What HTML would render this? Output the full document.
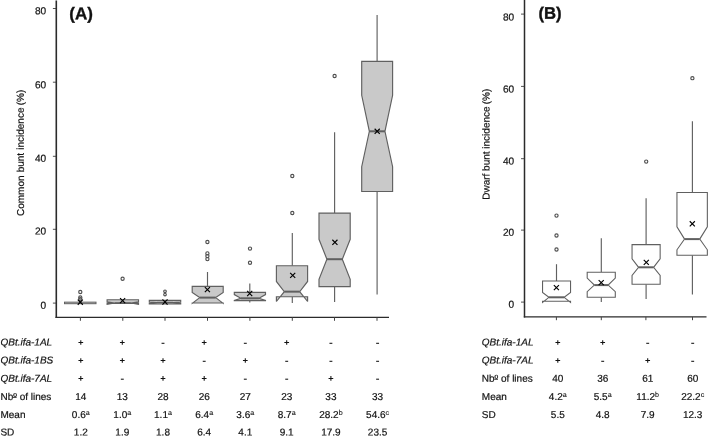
<!DOCTYPE html>
<html><head><meta charset="utf-8"><title>Bunt incidence</title>
<style>html,body{margin:0;padding:0;background:#fff;}svg{display:block;filter:grayscale(1);}text{font-family:"Liberation Sans",sans-serif;fill:#111;stroke:#111;stroke-width:0.2px;text-rendering:geometricPrecision;}</style>
</head><body>
<svg width="709" height="439" viewBox="0 0 709 439">
<rect width="709" height="439" fill="#fff"/>
<rect x="64.5" y="302.15" width="31.5" height="1.55" fill="#c9c9c9" stroke="#606060" stroke-width="1"/>
<circle cx="80.30" cy="292.00" r="1.6" fill="none" stroke="#505050" stroke-width="1.15"/>
<circle cx="80.30" cy="297.50" r="1.6" fill="none" stroke="#505050" stroke-width="1.15"/>
<circle cx="80.30" cy="299.30" r="1.6" fill="none" stroke="#505050" stroke-width="1.15"/>
<path d="M77.75,299.65 L82.85,304.75 M77.75,304.75 L82.85,299.65" stroke="#000" stroke-width="1.15" fill="none"/>
<polygon points="107.10,303.30 107.10,304.40 114.80,303.00 107.10,301.90 107.10,299.70 138.50,299.70 138.50,301.90 130.80,303.00 138.50,304.40 138.50,303.30" fill="#c9c9c9" stroke="#606060" stroke-width="1.15" stroke-linejoin="miter" stroke-miterlimit="3"/>
<line x1="114.80" y1="303.00" x2="130.80" y2="303.00" stroke="#606060" stroke-width="1.6"/>
<circle cx="122.60" cy="278.70" r="1.6" fill="none" stroke="#505050" stroke-width="1.15"/>
<path d="M120.05,298.05 L125.15,303.15 M120.05,303.15 L125.15,298.05" stroke="#000" stroke-width="1.15" fill="none"/>
<polygon points="149.30,304.00 149.30,303.20 157.00,302.60 149.30,302.00 149.30,300.30 180.70,300.30 180.70,302.00 173.00,302.60 180.70,303.20 180.70,304.00" fill="#c9c9c9" stroke="#606060" stroke-width="1.15" stroke-linejoin="miter" stroke-miterlimit="3"/>
<line x1="157.00" y1="302.60" x2="173.00" y2="302.60" stroke="#606060" stroke-width="1.6"/>
<circle cx="165.00" cy="291.30" r="1.3" fill="none" stroke="#505050" stroke-width="1.15"/>
<circle cx="165.00" cy="294.50" r="1.3" fill="none" stroke="#505050" stroke-width="1.15"/>
<path d="M162.45,299.45 L167.55,304.55 M162.45,304.55 L167.55,299.45" stroke="#000" stroke-width="1.15" fill="none"/>
<line x1="207.50" y1="272.00" x2="207.50" y2="286.40" stroke="#606060" stroke-width="1.15"/>
<polygon points="192.20,303.00 192.20,303.40 199.70,297.60 192.20,292.45 192.20,286.40 223.20,286.40 223.20,292.45 215.70,297.60 223.20,303.40 223.20,303.00" fill="#c9c9c9" stroke="#606060" stroke-width="1.15" stroke-linejoin="miter" stroke-miterlimit="3"/>
<line x1="199.70" y1="297.60" x2="215.70" y2="297.60" stroke="#606060" stroke-width="2.0"/>
<circle cx="207.40" cy="242.00" r="1.6" fill="none" stroke="#505050" stroke-width="1.15"/>
<circle cx="207.40" cy="253.40" r="1.6" fill="none" stroke="#505050" stroke-width="1.15"/>
<circle cx="207.40" cy="256.10" r="1.6" fill="none" stroke="#505050" stroke-width="1.15"/>
<circle cx="207.40" cy="259.10" r="1.6" fill="none" stroke="#505050" stroke-width="1.15"/>
<path d="M204.85,287.05 L209.95,292.15 M204.85,292.15 L209.95,287.05" stroke="#000" stroke-width="1.15" fill="none"/>
<line x1="249.80" y1="283.40" x2="249.80" y2="292.40" stroke="#606060" stroke-width="1.15"/>
<line x1="249.80" y1="300.60" x2="249.80" y2="302.60" stroke="#606060" stroke-width="1.15"/>
<polygon points="234.30,300.60 234.30,300.40 240.90,298.30 234.30,294.60 234.30,292.40 265.50,292.40 265.50,294.60 258.90,298.30 265.50,300.40 265.50,300.60" fill="#c9c9c9" stroke="#606060" stroke-width="1.15" stroke-linejoin="miter" stroke-miterlimit="3"/>
<line x1="240.90" y1="298.30" x2="258.90" y2="298.30" stroke="#606060" stroke-width="2.0"/>
<circle cx="250.00" cy="248.60" r="1.6" fill="none" stroke="#505050" stroke-width="1.15"/>
<circle cx="250.00" cy="262.80" r="1.6" fill="none" stroke="#505050" stroke-width="1.15"/>
<path d="M247.15,290.95 L252.25,296.05 M247.15,296.05 L252.25,290.95" stroke="#000" stroke-width="1.15" fill="none"/>
<line x1="292.30" y1="233.10" x2="292.30" y2="265.70" stroke="#606060" stroke-width="1.15"/>
<line x1="292.30" y1="296.70" x2="292.30" y2="303.00" stroke="#606060" stroke-width="1.15"/>
<polygon points="276.40,296.70 276.40,301.50 284.30,291.65 276.40,281.45 276.40,265.70 307.60,265.70 307.60,281.45 299.70,291.65 307.60,301.50 307.60,296.70" fill="#c9c9c9" stroke="#606060" stroke-width="1.15" stroke-linejoin="miter" stroke-miterlimit="3"/>
<line x1="284.30" y1="291.65" x2="299.70" y2="291.65" stroke="#606060" stroke-width="2.0"/>
<circle cx="292.30" cy="176.00" r="1.6" fill="none" stroke="#505050" stroke-width="1.15"/>
<circle cx="292.30" cy="213.00" r="1.6" fill="none" stroke="#505050" stroke-width="1.15"/>
<path d="M290.15,272.85 L295.25,277.95 M290.15,277.95 L295.25,272.85" stroke="#000" stroke-width="1.15" fill="none"/>
<line x1="334.60" y1="132.30" x2="334.60" y2="213.10" stroke="#606060" stroke-width="1.15"/>
<line x1="334.60" y1="286.60" x2="334.60" y2="302.10" stroke="#606060" stroke-width="1.15"/>
<polygon points="319.00,286.60 319.00,279.30 326.90,259.20 319.00,239.30 319.00,213.10 350.20,213.10 350.20,239.30 342.30,259.20 350.20,279.30 350.20,286.60" fill="#c9c9c9" stroke="#606060" stroke-width="1.15" stroke-linejoin="miter" stroke-miterlimit="3"/>
<line x1="326.90" y1="259.20" x2="342.30" y2="259.20" stroke="#606060" stroke-width="2.0"/>
<circle cx="334.60" cy="76.00" r="1.6" fill="none" stroke="#505050" stroke-width="1.15"/>
<path d="M332.35,239.75 L337.45,244.85 M332.35,244.85 L337.45,239.75" stroke="#000" stroke-width="1.15" fill="none"/>
<line x1="377.10" y1="15.00" x2="377.10" y2="61.40" stroke="#606060" stroke-width="1.15"/>
<line x1="377.10" y1="191.45" x2="377.10" y2="294.60" stroke="#606060" stroke-width="1.15"/>
<polygon points="361.70,191.45 361.70,166.75 369.35,131.30 361.70,95.25 361.70,61.40 392.60,61.40 392.60,95.25 384.95,131.30 392.60,166.75 392.60,191.45" fill="#c9c9c9" stroke="#606060" stroke-width="1.15" stroke-linejoin="miter" stroke-miterlimit="3"/>
<line x1="369.35" y1="131.30" x2="384.95" y2="131.30" stroke="#606060" stroke-width="2.0"/>
<path d="M374.65,128.75 L379.75,133.85 M374.65,133.85 L379.75,128.75" stroke="#000" stroke-width="1.15" fill="none"/>
<line x1="56.3" y1="0.5" x2="56.3" y2="318.09999999999997" stroke="#2b2b2b" stroke-width="1.6"/>
<line x1="55.5" y1="317.4" x2="389" y2="317.4" stroke="#2b2b2b" stroke-width="1.4"/>
<line x1="52.9" y1="8.50" x2="56.3" y2="8.50" stroke="#333" stroke-width="0.85"/>
<text transform="rotate(0.03 46.20 14.35)" x="46.20" y="14.35" text-anchor="end" style="font-size:10.1px;">80</text>
<line x1="52.9" y1="82.20" x2="56.3" y2="82.20" stroke="#333" stroke-width="0.85"/>
<text transform="rotate(0.03 46.20 88.35)" x="46.20" y="88.35" text-anchor="end" style="font-size:10.1px;">60</text>
<line x1="52.9" y1="156.30" x2="56.3" y2="156.30" stroke="#333" stroke-width="0.85"/>
<text transform="rotate(0.03 46.20 161.75)" x="46.20" y="161.75" text-anchor="end" style="font-size:10.1px;">40</text>
<line x1="52.9" y1="229.30" x2="56.3" y2="229.30" stroke="#333" stroke-width="0.85"/>
<text transform="rotate(0.03 46.20 234.60)" x="46.20" y="234.60" text-anchor="end" style="font-size:10.1px;">20</text>
<line x1="52.9" y1="303.10" x2="56.3" y2="303.10" stroke="#333" stroke-width="0.85"/>
<text transform="rotate(0.03 46.20 308.65)" x="46.20" y="308.65" text-anchor="end" style="font-size:10.1px;">0</text>
<line x1="80.4" y1="317.4" x2="80.4" y2="320.8" stroke="#444" stroke-width="1"/>
<line x1="122.8" y1="317.4" x2="122.8" y2="320.8" stroke="#444" stroke-width="1"/>
<line x1="165.0" y1="317.4" x2="165.0" y2="320.8" stroke="#444" stroke-width="1"/>
<line x1="207.5" y1="317.4" x2="207.5" y2="320.8" stroke="#444" stroke-width="1"/>
<line x1="249.9" y1="317.4" x2="249.9" y2="320.8" stroke="#444" stroke-width="1"/>
<line x1="292.3" y1="317.4" x2="292.3" y2="320.8" stroke="#444" stroke-width="1"/>
<line x1="334.5" y1="317.4" x2="334.5" y2="320.8" stroke="#444" stroke-width="1"/>
<line x1="377.0" y1="317.4" x2="377.0" y2="320.8" stroke="#444" stroke-width="1"/>
<text transform="rotate(0.03 69.35 19.25)" x="69.35" y="19.25" text-anchor="start" style="font-size:17px;font-weight:bold;stroke-width:0.35px;">(A)</text>
<text transform="translate(23.9,216.0) rotate(-90.03)" style="font-size:10px;word-spacing:0.3px">Common bunt incidence<tspan dx="-0.8"> (%)</tspan></text>
<text transform="rotate(0.03 0.45 345.40)" x="0.45" y="345.40" text-anchor="start" style="font-size:10px;font-style:italic;">QBt.ifa-1AL</text>
<text transform="rotate(0.03 0.45 363.40)" x="0.45" y="363.40" text-anchor="start" style="font-size:10px;font-style:italic;">QBt.ifa-1BS</text>
<text transform="rotate(0.03 0.45 381.80)" x="0.45" y="381.80" text-anchor="start" style="font-size:10px;font-style:italic;">QBt.ifa-7AL</text>
<text transform="rotate(0.03 0.45 399.90)" x="0.45" y="399.90" text-anchor="start" style="font-size:10px;">Nbº of lines</text>
<text transform="rotate(0.03 0.45 417.90)" x="0.45" y="417.90" text-anchor="start" style="font-size:10px;">Mean</text>
<text transform="rotate(0.03 0.45 435.60)" x="0.45" y="435.60" text-anchor="start" style="font-size:10px;">SD</text>
<line x1="13.0" y1="397.50" x2="16.6" y2="397.50" stroke="#111" stroke-width="0.75"/>
<path d="M78.45,342.50 H83.15 M80.80,340.15 V344.85" stroke="#111" stroke-width="1.05" fill="none"/>
<path d="M119.95,342.50 H124.65 M122.30,340.15 V344.85" stroke="#111" stroke-width="1.05" fill="none"/>
<path d="M161.55,343.30 H164.45" stroke="#111" stroke-width="1.05" fill="none"/>
<path d="M201.85,342.50 H206.55 M204.20,340.15 V344.85" stroke="#111" stroke-width="1.05" fill="none"/>
<path d="M243.85,343.30 H246.75" stroke="#111" stroke-width="1.05" fill="none"/>
<path d="M284.35,342.50 H289.05 M286.70,340.15 V344.85" stroke="#111" stroke-width="1.05" fill="none"/>
<path d="M329.45,343.30 H332.35" stroke="#111" stroke-width="1.05" fill="none"/>
<path d="M376.15,343.30 H379.05" stroke="#111" stroke-width="1.05" fill="none"/>
<path d="M78.45,360.50 H83.15 M80.80,358.15 V362.85" stroke="#111" stroke-width="1.05" fill="none"/>
<path d="M119.95,360.50 H124.65 M122.30,358.15 V362.85" stroke="#111" stroke-width="1.05" fill="none"/>
<path d="M160.65,360.50 H165.35 M163.00,358.15 V362.85" stroke="#111" stroke-width="1.05" fill="none"/>
<path d="M202.75,361.30 H205.65" stroke="#111" stroke-width="1.05" fill="none"/>
<path d="M242.95,360.50 H247.65 M245.30,358.15 V362.85" stroke="#111" stroke-width="1.05" fill="none"/>
<path d="M285.25,361.30 H288.15" stroke="#111" stroke-width="1.05" fill="none"/>
<path d="M329.45,361.30 H332.35" stroke="#111" stroke-width="1.05" fill="none"/>
<path d="M376.15,361.30 H379.05" stroke="#111" stroke-width="1.05" fill="none"/>
<path d="M78.45,378.40 H83.15 M80.80,376.05 V380.75" stroke="#111" stroke-width="1.05" fill="none"/>
<path d="M120.85,379.20 H123.75" stroke="#111" stroke-width="1.05" fill="none"/>
<path d="M160.65,378.40 H165.35 M163.00,376.05 V380.75" stroke="#111" stroke-width="1.05" fill="none"/>
<path d="M201.85,378.40 H206.55 M204.20,376.05 V380.75" stroke="#111" stroke-width="1.05" fill="none"/>
<path d="M243.85,379.20 H246.75" stroke="#111" stroke-width="1.05" fill="none"/>
<path d="M285.25,379.20 H288.15" stroke="#111" stroke-width="1.05" fill="none"/>
<path d="M328.55,378.40 H333.25 M330.90,376.05 V380.75" stroke="#111" stroke-width="1.05" fill="none"/>
<path d="M376.15,379.20 H379.05" stroke="#111" stroke-width="1.05" fill="none"/>
<text transform="rotate(0.03 80.80 399.90)" x="80.80" y="399.90" text-anchor="middle" style="font-size:10px;">14</text>
<text transform="rotate(0.03 122.30 399.90)" x="122.30" y="399.90" text-anchor="middle" style="font-size:10px;">13</text>
<text transform="rotate(0.03 163.00 399.90)" x="163.00" y="399.90" text-anchor="middle" style="font-size:10px;">28</text>
<text transform="rotate(0.03 204.20 399.90)" x="204.20" y="399.90" text-anchor="middle" style="font-size:10px;">26</text>
<text transform="rotate(0.03 245.30 399.90)" x="245.30" y="399.90" text-anchor="middle" style="font-size:10px;">27</text>
<text transform="rotate(0.03 286.70 399.90)" x="286.70" y="399.90" text-anchor="middle" style="font-size:10px;">23</text>
<text transform="rotate(0.03 330.90 399.90)" x="330.90" y="399.90" text-anchor="middle" style="font-size:10px;">33</text>
<text transform="rotate(0.03 377.60 399.90)" x="377.60" y="399.90" text-anchor="middle" style="font-size:10px;">33</text>
<text transform="rotate(0.03 80.80 417.90)" x="80.80" y="417.90" text-anchor="middle" style="font-size:10px">0.6<tspan dy="-3.0" style="font-size:7.1px;stroke-width:0.1px">a</tspan></text>
<text transform="rotate(0.03 122.30 417.90)" x="122.30" y="417.90" text-anchor="middle" style="font-size:10px">1.0<tspan dy="-3.0" style="font-size:7.1px;stroke-width:0.1px">a</tspan></text>
<text transform="rotate(0.03 163.00 417.90)" x="163.00" y="417.90" text-anchor="middle" style="font-size:10px">1.1<tspan dy="-3.0" style="font-size:7.1px;stroke-width:0.1px">a</tspan></text>
<text transform="rotate(0.03 204.20 417.90)" x="204.20" y="417.90" text-anchor="middle" style="font-size:10px">6.4<tspan dy="-3.0" style="font-size:7.1px;stroke-width:0.1px">a</tspan></text>
<text transform="rotate(0.03 245.30 417.90)" x="245.30" y="417.90" text-anchor="middle" style="font-size:10px">3.6<tspan dy="-3.0" style="font-size:7.1px;stroke-width:0.1px">a</tspan></text>
<text transform="rotate(0.03 286.70 417.90)" x="286.70" y="417.90" text-anchor="middle" style="font-size:10px">8.7<tspan dy="-3.0" style="font-size:7.1px;stroke-width:0.1px">a</tspan></text>
<text transform="rotate(0.03 330.90 417.90)" x="330.90" y="417.90" text-anchor="middle" style="font-size:10px">28.2<tspan dy="-3.0" style="font-size:7.1px;stroke-width:0.1px">b</tspan></text>
<text transform="rotate(0.03 377.60 417.90)" x="377.60" y="417.90" text-anchor="middle" style="font-size:10px">54.6<tspan dy="-3.0" style="font-size:7.1px;stroke-width:0.1px">c</tspan></text>
<text transform="rotate(0.03 80.80 435.60)" x="80.80" y="435.60" text-anchor="middle" style="font-size:10px;">1.2</text>
<text transform="rotate(0.03 122.30 435.60)" x="122.30" y="435.60" text-anchor="middle" style="font-size:10px;">1.9</text>
<text transform="rotate(0.03 163.00 435.60)" x="163.00" y="435.60" text-anchor="middle" style="font-size:10px;">1.8</text>
<text transform="rotate(0.03 204.20 435.60)" x="204.20" y="435.60" text-anchor="middle" style="font-size:10px;">6.4</text>
<text transform="rotate(0.03 245.30 435.60)" x="245.30" y="435.60" text-anchor="middle" style="font-size:10px;">4.1</text>
<text transform="rotate(0.03 286.70 435.60)" x="286.70" y="435.60" text-anchor="middle" style="font-size:10px;">9.1</text>
<text transform="rotate(0.03 330.90 435.60)" x="330.90" y="435.60" text-anchor="middle" style="font-size:10px;">17.9</text>
<text transform="rotate(0.03 377.60 435.60)" x="377.60" y="435.60" text-anchor="middle" style="font-size:10px;">23.5</text>
<line x1="556.50" y1="264.20" x2="556.50" y2="281.00" stroke="#606060" stroke-width="1.15"/>
<polygon points="542.55,301.30 542.55,302.40 548.95,297.30 542.55,292.40 542.55,281.00 570.55,281.00 570.55,292.40 564.15,297.30 570.55,302.40 570.55,301.30" fill="#fff" stroke="#606060" stroke-width="1.08" stroke-linejoin="miter" stroke-miterlimit="3"/>
<line x1="548.95" y1="297.30" x2="564.15" y2="297.30" stroke="#606060" stroke-width="2.0"/>
<circle cx="556.50" cy="215.60" r="1.6" fill="none" stroke="#505050" stroke-width="1.15"/>
<circle cx="556.50" cy="235.50" r="1.6" fill="none" stroke="#505050" stroke-width="1.15"/>
<circle cx="556.50" cy="249.50" r="1.6" fill="none" stroke="#505050" stroke-width="1.15"/>
<path d="M553.85,285.05 L558.95,290.15 M553.85,290.15 L558.95,285.05" stroke="#000" stroke-width="1.15" fill="none"/>
<line x1="601.30" y1="238.30" x2="601.30" y2="272.30" stroke="#606060" stroke-width="1.15"/>
<line x1="601.30" y1="297.20" x2="601.30" y2="302.10" stroke="#606060" stroke-width="1.15"/>
<polygon points="587.20,297.20 587.20,291.70 594.35,285.10 587.20,278.10 587.20,272.30 615.30,272.30 615.30,278.10 608.15,285.10 615.30,291.70 615.30,297.20" fill="#fff" stroke="#606060" stroke-width="1.08" stroke-linejoin="miter" stroke-miterlimit="3"/>
<line x1="594.35" y1="285.10" x2="608.15" y2="285.10" stroke="#606060" stroke-width="2.0"/>
<path d="M598.65,280.05 L603.75,285.15 M598.65,285.15 L603.75,280.05" stroke="#000" stroke-width="1.15" fill="none"/>
<line x1="646.10" y1="198.20" x2="646.10" y2="244.65" stroke="#606060" stroke-width="1.15"/>
<line x1="646.10" y1="284.30" x2="646.10" y2="299.05" stroke="#606060" stroke-width="1.15"/>
<polygon points="632.05,284.30 632.05,275.35 638.60,267.30 632.05,258.80 632.05,244.65 660.15,244.65 660.15,258.80 653.60,267.30 660.15,275.35 660.15,284.30" fill="#fff" stroke="#606060" stroke-width="1.08" stroke-linejoin="miter" stroke-miterlimit="3"/>
<line x1="638.60" y1="267.30" x2="653.60" y2="267.30" stroke="#606060" stroke-width="2.0"/>
<circle cx="646.20" cy="161.60" r="1.6" fill="none" stroke="#505050" stroke-width="1.15"/>
<path d="M643.75,259.85 L648.85,264.95 M643.75,264.95 L648.85,259.85" stroke="#000" stroke-width="1.15" fill="none"/>
<line x1="692.40" y1="121.20" x2="692.40" y2="192.50" stroke="#606060" stroke-width="1.15"/>
<line x1="692.40" y1="255.20" x2="692.40" y2="294.60" stroke="#606060" stroke-width="1.15"/>
<polygon points="676.95,255.20 676.95,249.80 684.55,239.10 676.95,226.80 676.95,192.50 707.35,192.50 707.35,226.80 699.75,239.10 707.35,249.80 707.35,255.20" fill="#fff" stroke="#606060" stroke-width="1.08" stroke-linejoin="miter" stroke-miterlimit="3"/>
<line x1="684.55" y1="239.10" x2="699.75" y2="239.10" stroke="#606060" stroke-width="2.0"/>
<circle cx="692.40" cy="78.20" r="1.6" fill="none" stroke="#505050" stroke-width="1.15"/>
<path d="M689.75,221.25 L694.85,226.35 M689.75,226.35 L694.85,221.25" stroke="#000" stroke-width="1.15" fill="none"/>
<line x1="524.5" y1="0" x2="524.5" y2="317.59999999999997" stroke="#2b2b2b" stroke-width="1.5"/>
<line x1="523.8" y1="316.9" x2="706.5" y2="316.9" stroke="#2b2b2b" stroke-width="1.4"/>
<line x1="521" y1="14.10" x2="524.5" y2="14.10" stroke="#333" stroke-width="0.85"/>
<text transform="rotate(0.03 514.20 20.50)" x="514.20" y="20.50" text-anchor="end" style="font-size:10.1px;">80</text>
<line x1="521" y1="86.40" x2="524.5" y2="86.40" stroke="#333" stroke-width="0.85"/>
<text transform="rotate(0.03 514.20 92.50)" x="514.20" y="92.50" text-anchor="end" style="font-size:10.1px;">60</text>
<line x1="521" y1="158.70" x2="524.5" y2="158.70" stroke="#333" stroke-width="0.85"/>
<text transform="rotate(0.03 514.20 164.50)" x="514.20" y="164.50" text-anchor="end" style="font-size:10.1px;">40</text>
<line x1="521" y1="230.10" x2="524.5" y2="230.10" stroke="#333" stroke-width="0.85"/>
<text transform="rotate(0.03 514.20 235.75)" x="514.20" y="235.75" text-anchor="end" style="font-size:10.1px;">20</text>
<line x1="521" y1="302.10" x2="524.5" y2="302.10" stroke="#333" stroke-width="0.85"/>
<text transform="rotate(0.03 514.20 307.75)" x="514.20" y="307.75" text-anchor="end" style="font-size:10.1px;">0</text>
<line x1="556.4" y1="316.9" x2="556.4" y2="320.2" stroke="#444" stroke-width="1"/>
<line x1="601.3" y1="316.9" x2="601.3" y2="320.2" stroke="#444" stroke-width="1"/>
<line x1="645.9" y1="316.9" x2="645.9" y2="320.2" stroke="#444" stroke-width="1"/>
<line x1="692.5" y1="316.9" x2="692.5" y2="320.2" stroke="#444" stroke-width="1"/>
<text transform="rotate(0.03 538.45 18.85)" x="538.45" y="18.85" text-anchor="start" style="font-size:16.7px;font-weight:bold;stroke-width:0.35px;">(B)</text>
<text transform="translate(489.6,199.8) rotate(-90.03)" style="font-size:10px">Dwarf bunt incidence<tspan dx="-0.7"> (%)</tspan></text>
<text transform="rotate(0.03 481.80 345.40)" x="481.80" y="345.40" text-anchor="start" style="font-size:10px;font-style:italic;">QBt.ifa-1AL</text>
<text transform="rotate(0.03 481.80 363.40)" x="481.80" y="363.40" text-anchor="start" style="font-size:10px;font-style:italic;">QBt.ifa-7AL</text>
<text transform="rotate(0.03 481.80 381.80)" x="481.80" y="381.80" text-anchor="start" style="font-size:10px;">Nbº of lines</text>
<text transform="rotate(0.03 481.80 399.90)" x="481.80" y="399.90" text-anchor="start" style="font-size:10px;">Mean</text>
<text transform="rotate(0.03 481.80 417.90)" x="481.80" y="417.90" text-anchor="start" style="font-size:10px;">SD</text>
<line x1="494.35" y1="379.40" x2="497.95" y2="379.40" stroke="#111" stroke-width="0.75"/>
<path d="M555.45,342.50 H560.15 M557.80,340.15 V344.85" stroke="#111" stroke-width="1.05" fill="none"/>
<path d="M600.35,342.50 H605.05 M602.70,340.15 V344.85" stroke="#111" stroke-width="1.05" fill="none"/>
<path d="M646.25,343.30 H649.15" stroke="#111" stroke-width="1.05" fill="none"/>
<path d="M691.25,343.30 H694.15" stroke="#111" stroke-width="1.05" fill="none"/>
<path d="M555.45,360.50 H560.15 M557.80,358.15 V362.85" stroke="#111" stroke-width="1.05" fill="none"/>
<path d="M601.25,361.30 H604.15" stroke="#111" stroke-width="1.05" fill="none"/>
<path d="M645.35,360.50 H650.05 M647.70,358.15 V362.85" stroke="#111" stroke-width="1.05" fill="none"/>
<path d="M691.25,361.30 H694.15" stroke="#111" stroke-width="1.05" fill="none"/>
<text transform="rotate(0.03 557.80 381.80)" x="557.80" y="381.80" text-anchor="middle" style="font-size:10px;">40</text>
<text transform="rotate(0.03 602.70 381.80)" x="602.70" y="381.80" text-anchor="middle" style="font-size:10px;">36</text>
<text transform="rotate(0.03 647.70 381.80)" x="647.70" y="381.80" text-anchor="middle" style="font-size:10px;">61</text>
<text transform="rotate(0.03 692.70 381.80)" x="692.70" y="381.80" text-anchor="middle" style="font-size:10px;">60</text>
<text transform="rotate(0.03 557.80 399.90)" x="557.80" y="399.90" text-anchor="middle" style="font-size:10px">4.2<tspan dy="-3.0" style="font-size:7.1px;stroke-width:0.1px">a</tspan></text>
<text transform="rotate(0.03 602.70 399.90)" x="602.70" y="399.90" text-anchor="middle" style="font-size:10px">5.5<tspan dy="-3.0" style="font-size:7.1px;stroke-width:0.1px">a</tspan></text>
<text transform="rotate(0.03 647.70 399.90)" x="647.70" y="399.90" text-anchor="middle" style="font-size:10px">11.2<tspan dy="-3.0" style="font-size:7.1px;stroke-width:0.1px">b</tspan></text>
<text transform="rotate(0.03 692.70 399.90)" x="692.70" y="399.90" text-anchor="middle" style="font-size:10px">22.2<tspan dy="-3.0" style="font-size:7.1px;stroke-width:0.1px">c</tspan></text>
<text transform="rotate(0.03 557.80 417.90)" x="557.80" y="417.90" text-anchor="middle" style="font-size:10px;">5.5</text>
<text transform="rotate(0.03 602.70 417.90)" x="602.70" y="417.90" text-anchor="middle" style="font-size:10px;">4.8</text>
<text transform="rotate(0.03 647.70 417.90)" x="647.70" y="417.90" text-anchor="middle" style="font-size:10px;">7.9</text>
<text transform="rotate(0.03 692.70 417.90)" x="692.70" y="417.90" text-anchor="middle" style="font-size:10px;">12.3</text>
</svg></body></html>
